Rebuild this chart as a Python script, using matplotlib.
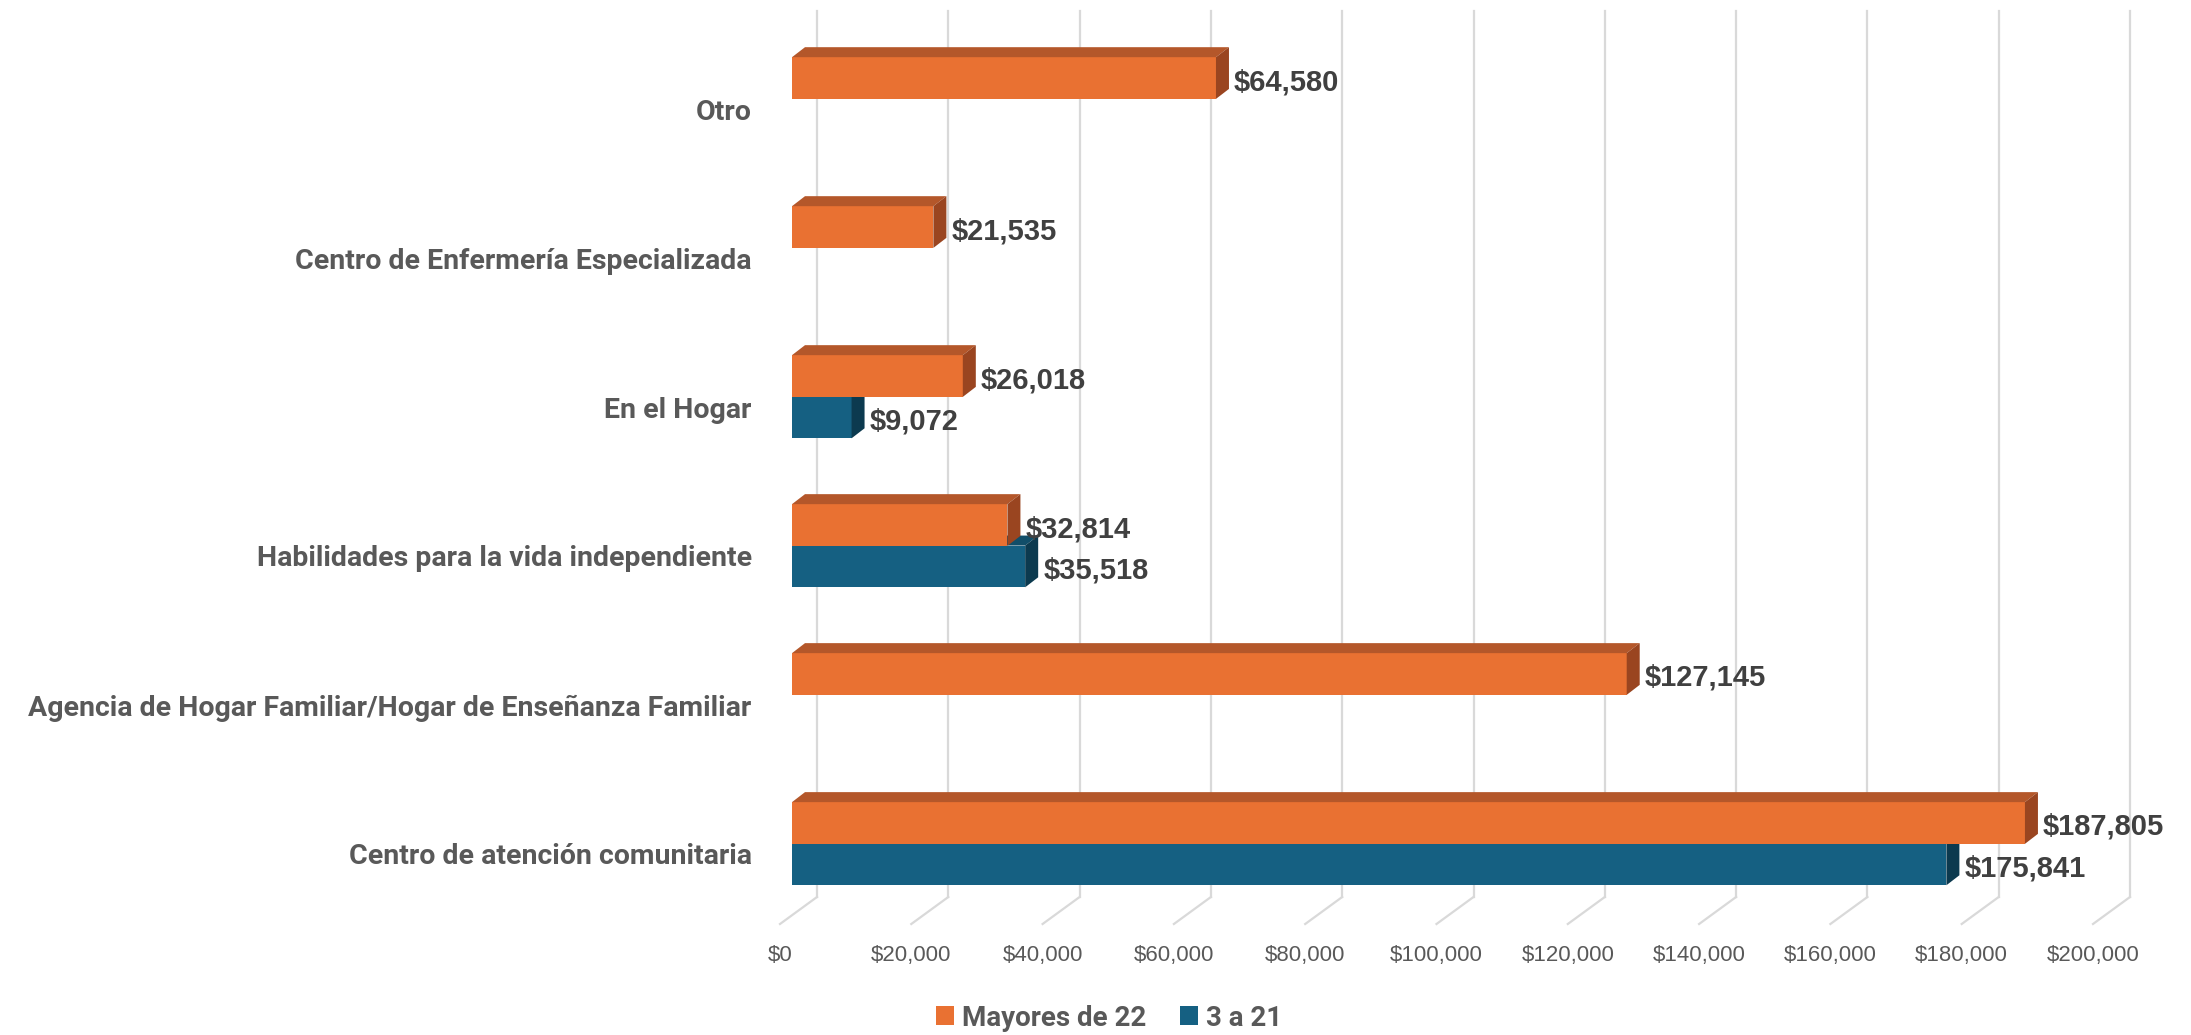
import numpy as np
import matplotlib
matplotlib.use("Agg")
import matplotlib.pyplot as plt
from matplotlib.patches import Polygon, Patch
from matplotlib.transforms import ScaledTranslation
from matplotlib import font_manager

# -------------------------
# DATOS (de abajo hacia arriba, como en Excel)
# -------------------------
categorias = [
    "Centro de atención comunitaria",
    "Agencia de Hogar Familiar/Hogar de Enseñanza Familiar",
    "Habilidades para la vida independiente",
    "En el Hogar",
    "Centro de Enfermería Especializada",
    "Otro",
]
mayores_22 = [187805, 127145, 32814, 26018, 21535, 64580]
de_3_a_21 = [175841, None, 35518, 9072, None, None]
series = ["Mayores de 22", "3 a 21"]
ticks_x = list(range(0, 200001, 20000))

# colores: frente, cara superior, cara lateral
naranja = ("#E97132", "#B4572A", "#9A4520")
azul = ("#156082", "#114E69", "#0C3A4F")

disponibles = {f.name for f in font_manager.fontManager.ttflist}
estrecha = "Liberation Sans Narrow" if "Liberation Sans Narrow" in disponibles else "Roboto"
normal = "Liberation Sans"

W, H, DPI = 2191, 1035, 100
fig = plt.figure(figsize=(W / DPI, H / DPI), dpi=DPI)
ax = fig.add_axes([792 / W, (H - 924) / H, 1313 / W, 913 / H])
ax.set_xlim(0, 200000)
ax.set_ylim(-0.470, 5.658)
for s in ax.spines.values():
    s.set_visible(False)

# conversión píxel -> unidades de datos
ux = 200000 / 1313
uy = (5.658 + 0.470) / 913

# -------------------------
# PARED DE FONDO Y PISO
# -------------------------
piso_fondo = -0.470 + 27 * uy
for t in ticks_x:
    ax.plot([t + 25 * ux, t + 25 * ux], [piso_fondo, 5.658], color="#D9D9D9",
            lw=1.6, zorder=1, clip_on=False)
    ax.plot([t + 25 * ux, t - 12 * ux], [piso_fondo, -0.470], color="#D9D9D9",
            lw=1.6, zorder=1, clip_on=False)

# -------------------------
# BARRAS 3D
# -------------------------
alto = 0.28
dx, dy = 13 * ux, 10 * uy

def barras_3d(valores, desplazamiento, colores, z):
    y = np.arange(len(valores)) + desplazamiento
    for yi, v in zip(y, valores):
        if v is None:
            continue
        ax.barh(yi, v, height=alto, color=colores[0], zorder=z)
        abajo, arriba = yi - alto / 2, yi + alto / 2
        ax.add_patch(Polygon([(0, arriba), (v, arriba), (v + dx, arriba + dy),
                              (dx, arriba + dy)], closed=True,
                             facecolor=colores[1], edgecolor="none", zorder=z))
        ax.add_patch(Polygon([(v, abajo), (v, arriba), (v + dx, arriba + dy),
                              (v + dx, abajo + dy)], closed=True,
                             facecolor=colores[2], edgecolor="none", zorder=z))
        ax.text(v + dx + 5 * ux, yi - 4 * uy, f"${v:,.0f}", ha="left", va="center",
                fontsize=21, fontweight="bold", family=normal, color="#404040",
                zorder=10)

barras_3d(de_3_a_21, -0.070, azul, 3)
barras_3d(mayores_22, 0.208, naranja, 4)

# -------------------------
# EJES
# -------------------------
ax.set_yticks(range(len(categorias)))
ax.set_yticklabels(categorias, fontsize=20.5, fontweight="bold", family=estrecha,
                   color="#595959")
ax.tick_params(axis="y", length=0, pad=29)

ax.set_xticks(ticks_x)
ax.set_xticklabels([f"${t:,.0f}" for t in ticks_x], fontsize=16, family=normal,
                   color="#595959")
ax.tick_params(axis="x", length=0, pad=15)
for lbl in ax.get_xticklabels():
    lbl.set_transform(lbl.get_transform() + ScaledTranslation(-12 / DPI, 0, fig.dpi_scale_trans))

# -------------------------
# LEYENDA
# -------------------------
manejadores = [Patch(facecolor=naranja[0]), Patch(facecolor=azul[0])]
fig.legend(manejadores, series, loc="center", bbox_to_anchor=(1109 / W, 1 - 1018 / H),
           ncol=2, frameon=False, handlelength=0.65, handleheight=0.65,
           handletextpad=0.3, columnspacing=1.2,
           prop={"family": estrecha, "weight": "bold", "size": 20},
           labelcolor="#595959")

fig.savefig("out.png", dpi=DPI)
